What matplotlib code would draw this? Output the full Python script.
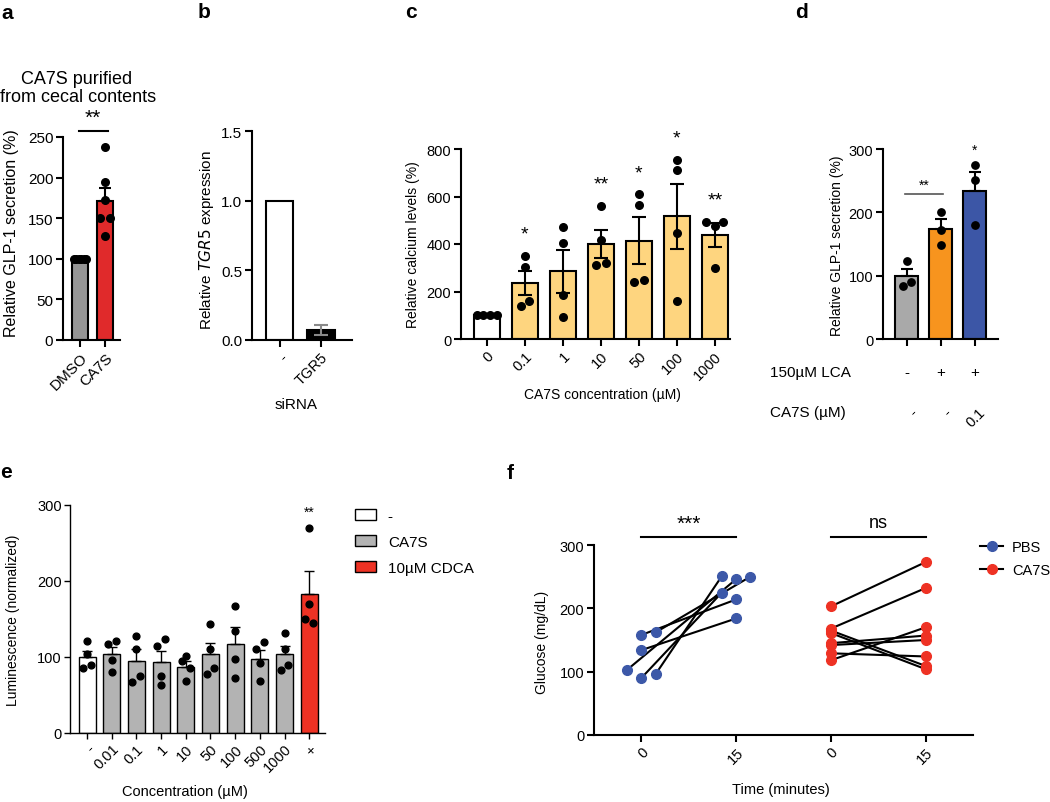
import matplotlib
matplotlib.use('Agg')
import matplotlib.pyplot as plt
from matplotlib.patches import Patch
from matplotlib.lines import Line2D
import numpy as np

plt.rcParams['font.family'] = ['Liberation Sans', 'DejaVu Sans']

# ---------------- data ----------------
# a
a_groups = ['DMSO', 'CA7S']
a_mean = [100, 171]
a_sem = [0, 16]
a_points = [[100, 100, 100, 100, 100, 100], [238, 194, 172, 150, 150, 128]]

# b
b_groups = ['-', 'TGR5']
b_mean = [1.0, 0.07]
b_sem = [0, 0.035]

# c
c_conc = ['0', '0.1', '1', '10', '50', '100', '1000']
c_mean = [100, 236, 285, 400, 414, 516, 438]
c_sem = [0, 52, 90, 58, 100, 137, 49]
c_points = [[100, 100, 100, 100], [351, 302, 159, 140], [470, 403, 187, 91],
            [561, 418, 320, 313], [610, 566, 248, 241], [755, 710, 446, 161],
            [494, 494, 474, 297]]
c_stars = ['', '*', '', '**', '*', '*', '**']

# d
d_mean = [99, 173, 234]
d_sem = [12, 16, 30]
d_points = [[123, 90, 84], [200, 172, 149], [275, 251, 180]]
d_lca = ['-', '+', '+']
d_ca7s = ['-', '-', '0.1']
d_stars = ['', '', '*']

# e
e_conc = ['-', '0.01', '0.1', '1', '10', '50', '100', '500', '1000', '+']
e_mean = [100, 103.5, 95, 93, 87, 103.5, 117, 97, 103.5, 183]
e_sem = [8, 9.5, 15, 15, 8, 15.5, 22, 12, 11.5, 30]
e_points = [[121, 104, 86, 89], [117, 121, 96, 80], [127, 110, 67, 75],
            [114, 124, 75, 63], [101, 95, 86, 68], [144, 110, 77, 86],
            [167, 134, 97, 73], [110, 120, 92, 68], [131, 111, 83, 90],
            [270, 170, 150, 145]]
e_group = ['-', 'CA7S', 'CA7S', 'CA7S', 'CA7S', 'CA7S', 'CA7S', 'CA7S', 'CA7S', '10µM CDCA']
e_stars = ['', '', '', '', '', '', '', '', '', '**']

# f
f_ticks = ['0', '15', '0', '15']
f_pbs_0 = [103, 158, 162, 134, 90, 96]
f_pbs_15 = [246, 214, 250, 184, 225, 251]
f_ca7s_0 = [203, 168, 165, 161, 145, 142, 129, 118]
f_ca7s_15 = [273, 232, 109, 104, 157, 150, 124, 170]

# ---------------- style constants ----------------
a_jit = [[-0.25, -0.15, -0.05, 0.05, 0.15, 0.25], [0, 0, 0, -0.2, 0.2, 0]]
c_jit = [[-0.27, -0.09, 0.09, 0.27], [0, 0, 0.11, -0.11], [0, 0, 0, 0],
         [0, 0, 0.13, -0.13], [0, 0, 0.13, -0.13], [0, 0, 0, 0],
         [-0.22, 0.22, 0, 0]]
d_jit = [[0, 0.12, -0.12], [0, 0, 0], [0, 0, 0]]
e_jit_pat = [[0, 0, -1, 1], [-1, 1, 0, 0], [0, 0, -1, 1], [-1, 1, 0, 0],
             [0, -1, 1, 0], [0, 0, -1, 1], [0, 0, 0, 0], [-1, 1, 0, 0],
             [0, 0, -1, 1], [0, 0, -1, 1]]
f_pbs0_jit = [-0.15, 0, 0.15, 0, 0, 0.15]
f_pbs15_jit = [0, 0, 0.15, 0, -0.15, -0.15]

W, H = 1050, 803
fig = plt.figure(figsize=(W / 100, H / 100), dpi=100)


def add_ax(x0, ytop, x1, ybot):
    return fig.add_axes([x0 / W, 1 - ybot / H, (x1 - x0) / W, (ybot - ytop) / H])


def style(ax, lw=1.5, fs=10, tl=5):
    for s in ['top', 'right']:
        ax.spines[s].set_visible(False)
    for s in ['left', 'bottom']:
        ax.spines[s].set_linewidth(lw)
    ax.tick_params(width=lw, length=tl, labelsize=fs, direction='out', pad=2)
    ax.patch.set_alpha(0)


def ftext(x, y, s, **kw):
    fig.text(x / W, 1 - y / H, s, **kw)


def plabel(x, y, s):
    ftext(x, y, s, fontsize=15, fontweight='bold', ha='left', va='baseline')


# ---------------- panel a ----------------
ax = add_ax(63, 138, 120, 341)
style(ax, fs=11)
xa = np.arange(len(a_groups))
ax.bar(xa, a_mean, width=0.64, color=['#959595', '#e02a2b'], edgecolor='black', linewidth=1.5, zorder=2)
ax.errorbar(xa, a_mean, yerr=[[0, 0], a_sem], fmt='none', ecolor='black', elinewidth=1.5,
            capsize=4, capthick=1.5, zorder=3)
for i, pts in enumerate(a_points):
    ax.scatter(np.array(a_jit[i]) + i, pts, s=30, color='black', zorder=4, clip_on=False)
ax.set_xlim(-0.69, 1.6)
ax.set_ylim(0, 250)
ax.set_yticks([0, 50, 100, 150, 200, 250])
ax.set_xticks(xa)
ax.set_xticklabels(a_groups, rotation=45, ha='right', rotation_mode='anchor')
ax.plot([-0.05, 1.1], [257, 257], color='black', lw=1.5, clip_on=False)
ax.text(0.5, 262, '**', ha='center', va='bottom', fontsize=15)
ftext(12, 233, 'Relative GLP-1 secretion (%)', rotation=90, ha='center', va='center', fontsize=11.5)
ftext(77, 80, 'CA7S purified', ha='center', va='center', fontsize=13)
ftext(78, 98, 'from cecal contents', ha='center', va='center', fontsize=13)
plabel(1, 19, 'a')

# ---------------- panel b ----------------
ax = add_ax(252, 132, 352, 341)
style(ax, fs=11)
xb = np.arange(len(b_groups))
ax.bar(xb, b_mean, width=0.66, color=['white', 'black'], edgecolor='black', linewidth=1.5, zorder=2)
ax.errorbar(xb[1:], b_mean[1:], yerr=b_sem[1:], fmt='none', ecolor='#8a8a8a', elinewidth=1.5,
            capsize=5, capthick=1.5, zorder=3)
ax.set_xlim(-0.67, 1.75)
ax.set_ylim(0, 1.5)
ax.set_yticks([0, 0.5, 1.0, 1.5])
ax.set_yticklabels(['0.0', '0.5', '1.0', '1.5'])
ax.set_xticks(xb)
ax.set_xticklabels(b_groups, rotation=45, ha='right', rotation_mode='anchor', fontsize=10.5)
ftext(207, 240, 'Relative $\\it{TGR5}$ expression', rotation=90, ha='center', va='center', fontsize=11)
ftext(296, 405, 'siRNA', ha='center', va='center', fontsize=11)
plabel(198, 18, 'b')

# ---------------- panel c ----------------
ax = add_ax(461, 150, 730, 340)
style(ax, fs=10.5)
xc = np.arange(len(c_conc))
ax.bar(xc, c_mean, width=0.68, color=['white'] + ['#fed57f'] * 6, edgecolor='black', linewidth=1.5, zorder=2)
ax.errorbar(xc[1:], c_mean[1:], yerr=c_sem[1:], fmt='none', ecolor='black', elinewidth=1.5,
            capsize=5, capthick=1.5, zorder=3)
for i, pts in enumerate(c_points):
    ax.scatter(np.array(c_jit[i]) + i, pts, s=30, color='black', zorder=4, clip_on=False)
    if c_stars[i]:
        top = max(max(pts), c_mean[i] + c_sem[i])
        ax.text(i, top + 55, c_stars[i], ha='center', va='bottom', fontsize=14, clip_on=False)
ax.set_xlim(-0.68, 6.4)
ax.set_ylim(0, 800)
ax.set_yticks([0, 200, 400, 600, 800])
ax.set_xticks(xc)
ax.set_xticklabels(c_conc, rotation=45, ha='right', rotation_mode='anchor')
ftext(413, 245, 'Relative calcium levels (%)', rotation=90, ha='center', va='center', fontsize=10)
ftext(602, 395, 'CA7S concentration (µM)', ha='center', va='center', fontsize=10)
plabel(405, 18, 'c')

# ---------------- panel d ----------------
ax = add_ax(883, 150, 998, 340)
style(ax, fs=10.5)
xd = np.arange(len(d_mean))
ax.bar(xd, d_mean, width=0.68, color=['#a9a9a9', '#f7941e', '#3c56a6'], edgecolor='black', linewidth=1.5, zorder=2)
ax.errorbar(xd, d_mean, yerr=[[0] * 3, d_sem], fmt='none', ecolor='black', elinewidth=1.5,
            capsize=4, capthick=1.5, zorder=3)
for i, pts in enumerate(d_points):
    ax.scatter(np.array(d_jit[i]) + i, pts, s=28, color='black', zorder=4, clip_on=False)
    if d_stars[i]:
        top = max(max(pts), d_mean[i] + d_sem[i])
        ax.text(i, top + 12, d_stars[i], ha='center', va='bottom', fontsize=10, clip_on=False)
ax.set_xlim(-0.7, 2.68)
ax.set_ylim(0, 300)
ax.set_yticks([0, 100, 200, 300])
ax.set_xticks(xd)
ax.set_xticklabels([])
ax.plot([-0.05, 1.05], [229, 229], color='#555555', lw=1.2, clip_on=False)
ax.text(0.5, 232, '**', ha='center', va='bottom', fontsize=10)
tr = ax.get_xaxis_transform()
for i in range(3):
    ax.text(i, -33 / 190, d_lca[i], transform=tr, ha='center', va='center', fontsize=11, clip_on=False)
    ax.text(i + 0.1, -66 / 190, d_ca7s[i], transform=tr, ha='right', va='top', rotation=45,
            rotation_mode='anchor', fontsize=10.5, clip_on=False)
ftext(837, 246, 'Relative GLP-1 secretion (%)', rotation=90, ha='center', va='center', fontsize=10)
ftext(770, 373, '150µM LCA', ha='left', va='center', fontsize=11)
ftext(770, 413, 'CA7S (µM)', ha='left', va='center', fontsize=11)
plabel(795, 18, 'd')

# ---------------- panel e ----------------
ax = add_ax(70, 506, 325, 734)
style(ax, lw=1.0, fs=10.5, tl=4)
xe = np.arange(len(e_conc))
ecolors = {'-': 'white', 'CA7S': '#b3b3b3', '10µM CDCA': '#ee3224'}
ax.bar(xe, e_mean, width=0.69, color=[ecolors[g] for g in e_group], edgecolor='black', linewidth=1.0, zorder=2)
ax.errorbar(xe, e_mean, yerr=[[0] * len(xe), e_sem], fmt='none', ecolor='black', elinewidth=1.0,
            capsize=3.5, capthick=1.0, zorder=3)
for i, pts in enumerate(e_points):
    ax.scatter(np.array(e_jit_pat[i]) * 0.16 + i, pts, s=24, color='black', zorder=4, clip_on=False)
    if e_stars[i]:
        ax.text(i, max(pts) + 12, e_stars[i], ha='center', va='bottom', fontsize=10, clip_on=False)
ax.set_xlim(-0.69, 9.64)
ax.set_ylim(0, 300)
ax.set_yticks([0, 100, 200, 300])
ax.set_xticks(xe)
ax.set_xticklabels(e_conc, rotation=45, ha='right', rotation_mode='anchor')
handles = [Patch(facecolor=ecolors[k], edgecolor='black', linewidth=1.0, label=k)
           for k in ['-', 'CA7S', '10µM CDCA']]
fig.legend(handles=handles, loc='upper left', bbox_to_anchor=(355 / W, 1 - 510 / H),
           bbox_transform=fig.transFigure, frameon=False, fontsize=11, borderpad=0,
           borderaxespad=0, handlelength=1.4, handleheight=0.75, handletextpad=0.75,
           labelspacing=0.78)
ftext(13, 620, 'Luminescence (normalized)', rotation=90, ha='center', va='center', fontsize=10)
ftext(185, 792, 'Concentration (µM)', ha='center', va='center', fontsize=10.5)
plabel(0, 478, 'e')

# ---------------- panel f ----------------
ax = add_ax(594, 546, 973, 736)
style(ax, lw=1.5, fs=10.5)
blue, red = '#3c58a8', '#ee3224'
for k in range(len(f_pbs_0)):
    ax.plot([0 + f_pbs0_jit[k], 1 + f_pbs15_jit[k]], [f_pbs_0[k], f_pbs_15[k]], color='black', lw=1.5, zorder=2)
for k in range(len(f_ca7s_0)):
    ax.plot([2, 3], [f_ca7s_0[k], f_ca7s_15[k]], color='black', lw=1.5, zorder=2)
ax.plot(np.array(f_pbs0_jit) + 0, f_pbs_0, 'o', color=blue, ms=7, mec=blue, zorder=3, clip_on=False)
ax.plot(np.array(f_pbs15_jit) + 1, f_pbs_15, 'o', color=blue, ms=7, mec=blue, zorder=3, clip_on=False)
ax.plot([2] * len(f_ca7s_0), f_ca7s_0, 'o', color=red, ms=7, mec=red, zorder=3, clip_on=False)
ax.plot([3] * len(f_ca7s_15), f_ca7s_15, 'o', color=red, ms=7, mec=red, zorder=3, clip_on=False)
ax.set_xlim(-0.5, 3.5)
ax.set_ylim(0, 300)
ax.set_yticks([0, 100, 200, 300])
ax.set_xticks(range(4))
ax.set_xticklabels(f_ticks, rotation=45, ha='right', rotation_mode='anchor')
ax.plot([0, 1], [313, 313], color='black', lw=1.5, clip_on=False)
ax.plot([2, 3], [313, 313], color='black', lw=1.5, clip_on=False)
ax.text(0.5, 320, '***', ha='center', va='bottom', fontsize=15)
ax.text(2.5, 322, 'ns', ha='center', va='bottom', fontsize=13)
fh = [Line2D([], [], color='black', lw=1.5, marker='o', ms=7, mfc=blue, mec=blue, label='PBS'),
      Line2D([], [], color='black', lw=1.5, marker='o', ms=7, mfc=red, mec=red, label='CA7S')]
fig.legend(handles=fh, loc='upper left', bbox_to_anchor=(980 / W, 1 - 541 / H),
           bbox_transform=fig.transFigure, frameon=False, fontsize=10.5, borderpad=0,
           borderaxespad=0, handlelength=1.6, handletextpad=0.6, labelspacing=0.6)
ftext(542, 642, 'Glucose (mg/dL)', rotation=90, ha='center', va='center', fontsize=10)
ftext(781, 790, 'Time (minutes)', ha='center', va='center', fontsize=10.5)
plabel(507, 479, 'f')

fig.savefig('out.png', dpi=100)
